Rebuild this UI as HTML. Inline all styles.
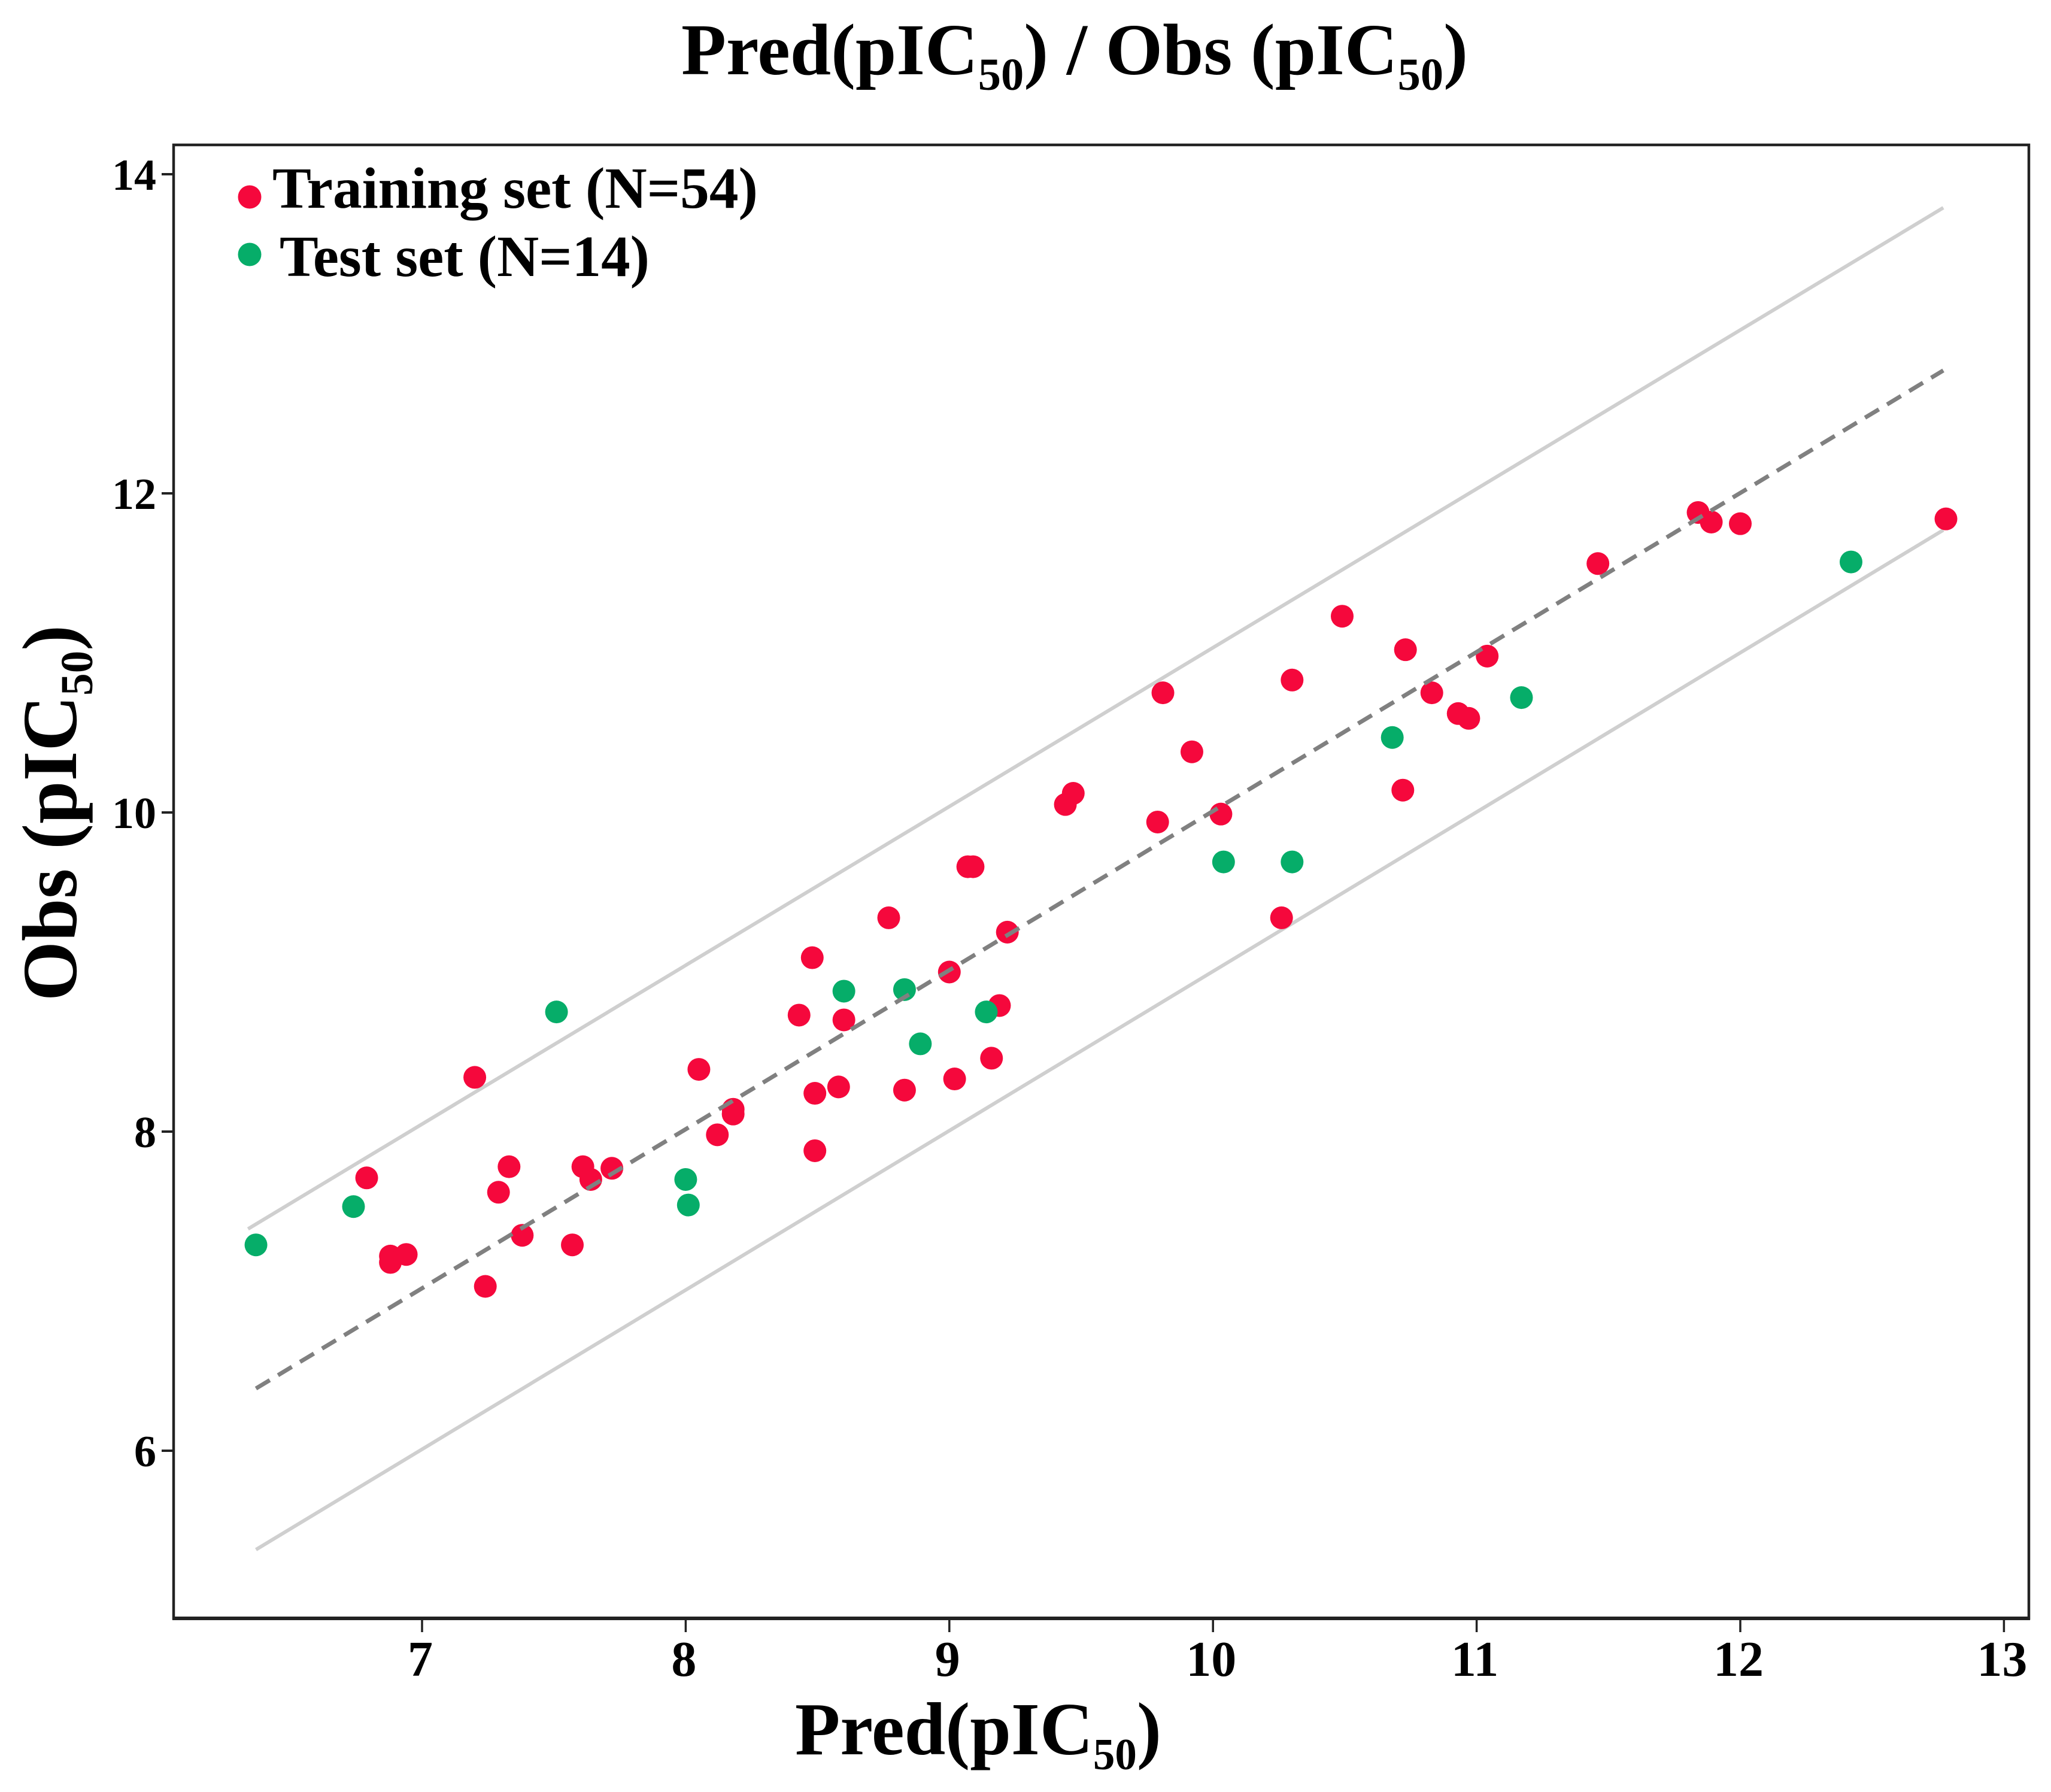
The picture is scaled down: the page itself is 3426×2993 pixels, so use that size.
<!DOCTYPE html>
<html lang="en">
<head>
<meta charset="utf-8">
<title>Pred(pIC50) / Obs (pIC50)</title>
<style>
html,body{margin:0;padding:0;background:#fff;}
svg{display:block;}
text{font-family:"Liberation Serif",serif;font-weight:bold;fill:#000;}
</style>
</head>
<body>
<svg id="chart" xmlns="http://www.w3.org/2000/svg" width="3426" height="2993" viewBox="0 0 3426 2993">
  <rect x="0" y="0" width="3426" height="2993" fill="#fff"/>
  <text x="1138" y="124" font-size="122" textLength="1314" lengthAdjust="spacingAndGlyphs">Pred(pIC<tspan font-size="76" dy="26">50</tspan><tspan dy="-26">) / Obs (pIC</tspan><tspan font-size="76" dy="26">50</tspan><tspan dy="-26">)</tspan></text>
  <rect x="290" y="242" width="3099" height="2461" fill="none" stroke="#222" stroke-width="4.5"/>
  <line x1="288" x2="3391" y1="2703" y2="2703" stroke="#222" stroke-width="6"/>
  <g id="x-axis"></g>
  <g id="y-axis"></g>
  <g id="bands"></g>
  <g id="points-train"></g>
  <g id="points-test"></g>
  <g id="fit"></g>
  <text x="1328" y="2930" font-size="125" textLength="612" lengthAdjust="spacingAndGlyphs">Pred(pIC<tspan font-size="74" dy="25">50</tspan><tspan dy="-25">)</tspan></text>
  <text transform="translate(127 1672) rotate(-90)" x="0" y="0" font-size="130" textLength="628" lengthAdjust="spacingAndGlyphs">Obs (pIC<tspan font-size="76" dy="27">50</tspan><tspan dy="-27">)</tspan></text>
  <g>
    <circle cx="417" cy="329" r="19.5" fill="#f5083c"/>
    <text x="455" y="347" font-size="97" textLength="811" lengthAdjust="spacingAndGlyphs">Training set (N=54)</text>
    <circle cx="417" cy="425" r="19.5" fill="#06ad69"/>
    <text x="467" y="461" font-size="97" textLength="618" lengthAdjust="spacingAndGlyphs">Test set (N=14)</text>
  </g>
</svg>
<script>
const xTicks = [7, 8, 9, 10, 11, 12, 13];
const yTicks = [6, 8, 10, 12, 14];

const trainPred = [6.79,6.88,6.88,6.94,7.20,7.24,7.29,7.33,7.38,7.57,7.61,7.64,7.72,8.05,8.12,8.18,8.18,8.43,8.48,8.49,8.49,8.58,8.60,8.77,8.83,9.00,9.02,9.07,9.09,9.16,9.19,9.22,9.44,9.47,9.79,9.81,9.92,10.03,10.26,10.30,10.49,10.72,10.73,10.83,10.93,10.97,11.04,11.46,11.84,11.89,12.00,12.78];
const trainObs = [7.71,7.22,7.18,7.23,8.34,7.03,7.62,7.78,7.35,7.29,7.78,7.70,7.77,8.39,7.98,8.14,8.11,8.73,9.09,8.24,7.88,8.28,8.70,9.34,8.26,9.00,8.33,9.66,9.66,8.46,8.79,9.25,10.05,10.12,9.94,10.75,10.38,9.99,9.34,10.83,11.23,10.14,11.02,10.75,10.62,10.59,10.98,11.56,11.88,11.82,11.81,11.84];

const testPred = [6.37,6.74,7.51,8.00,8.01,8.60,8.83,8.89,9.14,10.04,10.30,10.68,11.17,12.42];
const testObs = [7.29,7.53,8.75,7.70,7.54,8.88,8.89,8.55,8.75,9.69,9.69,10.47,10.72,11.57];

const upperPred = [6.34, 12.77];
const upperObs = [7.39, 13.79];
const lowerPred = [6.37, 12.77];
const lowerObs = [5.38, 11.77];
const fitPred = [6.37, 12.77];
const fitObs = [6.39, 12.77];

function xScale(v) { return 705 + (v - 7) * 440.4; }
function yScale(v) { return 2423 - (v - 6) * 266.5; }

const NS = 'http://www.w3.org/2000/svg';
function make(tag, attrs, parent) {
  const el = document.createElementNS(NS, tag);
  for (const k in attrs) el.setAttribute(k, attrs[k]);
  parent.appendChild(el);
  return el;
}

const xAxisG = document.getElementById('x-axis');
xTicks.forEach(function (t) {
  const tick = make('line', {x1: xScale(t), x2: xScale(t), y1: 2703, y2: 2726, stroke: '#222', 'stroke-width': 3.5}, xAxisG);
  
  
  const label = make('text', {x: xScale(t) - 3, y: 2799, 'font-size': 84, 'text-anchor': 'middle'}, xAxisG);
  label.textContent = t;
  
  
});

const yAxisG = document.getElementById('y-axis');
yTicks.forEach(function (t) {
  const tick = make('line', {x1: 270, x2: 290, y1: yScale(t), y2: yScale(t), stroke: '#222', 'stroke-width': 4}, yAxisG);
  
  
  const label = make('text', {x: 261, y: yScale(t) + 26, 'font-size': 74, 'text-anchor': 'end'}, yAxisG);
  label.textContent = t;
  
  
});

function linePoints(xs, ys) {
  return {x1: xScale(xs[0]), y1: yScale(ys[0]), x2: xScale(xs[1]), y2: yScale(ys[1])};
}

const bandsG = document.getElementById('bands');
const upperLine = make('line', linePoints(upperPred, upperObs), bandsG);
upperLine.setAttribute('stroke', '#cfcfcf');
upperLine.setAttribute('stroke-width', 6);


const lowerLine = make('line', linePoints(lowerPred, lowerObs), bandsG);
lowerLine.setAttribute('stroke', '#cfcfcf');
lowerLine.setAttribute('stroke-width', 6);



const trainG = document.getElementById('points-train');
trainPred.forEach(function (v, i) {
  const c = make('circle', {cx: xScale(v), cy: yScale(trainObs[i]), r: 19, fill: '#f5083c'}, trainG);
  
  
});

const testG = document.getElementById('points-test');
testPred.forEach(function (v, i) {
  const c = make('circle', {cx: xScale(v), cy: yScale(testObs[i]), r: 19, fill: '#06ad69'}, testG);
  
  
});

const fitG = document.getElementById('fit');
const fitLine = make('line', linePoints(fitPred, fitObs), fitG);
fitLine.setAttribute('stroke', '#808080');
fitLine.setAttribute('stroke-width', 7);
fitLine.setAttribute('stroke-dasharray', '27 16');


</script>
</body>
</html>
